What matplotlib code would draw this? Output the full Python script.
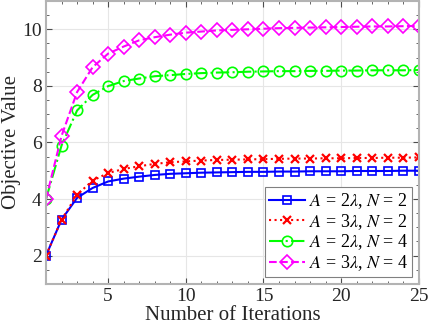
import matplotlib
matplotlib.use("Agg")
import matplotlib.pyplot as plt
from matplotlib.ticker import MultipleLocator

plt.rcParams['font.family'] = ['Liberation Serif', 'DejaVu Serif']
plt.rcParams['mathtext.fontset'] = 'stix'

iterations = list(range(1, 26))
a2_n2 = [2.0, 3.27, 4.04, 4.39, 4.62, 4.72, 4.79, 4.85, 4.89, 4.91, 4.93, 4.94, 4.95, 4.96,
         4.96, 4.97, 4.97, 4.98, 4.98, 4.98, 4.99, 4.99, 4.99, 5.0, 5.0]
a3_n2 = [2.0, 3.27, 4.15, 4.65, 4.92, 5.06, 5.16, 5.24, 5.30, 5.33, 5.36, 5.38, 5.39, 5.40,
         5.41, 5.42, 5.43, 5.43, 5.44, 5.44, 5.45, 5.45, 5.46, 5.46, 5.47]
a2_n4 = [4.0, 5.89, 7.13, 7.68, 7.99, 8.17, 8.26, 8.34, 8.38, 8.42, 8.45, 8.47, 8.48, 8.50,
         8.51, 8.52, 8.52, 8.53, 8.53, 8.54, 8.54, 8.55, 8.55, 8.55, 8.56]
a3_n4 = [4.0, 6.23, 7.78, 8.66, 9.14, 9.39, 9.61, 9.72, 9.81, 9.88, 9.92, 9.96, 9.98, 10.0,
         10.02, 10.04, 10.05, 10.06, 10.07, 10.08, 10.09, 10.1, 10.1, 10.11, 10.12]
labels = [r'$A$ = 2$\lambda$, $N$ = 2', r'$A$ = 3$\lambda$, $N$ = 2',
          r'$A$ = 2$\lambda$, $N$ = 4', r'$A$ = 3$\lambda$, $N$ = 4']

fig = plt.figure(figsize=(4.30, 3.32), dpi=100)
ax = fig.add_axes([0.107, 0.145, 0.867, 0.852])

ax.plot(iterations, a2_n2, '-', color='#0000FF', marker='s', ms=6, mfc='none', mew=1.2, lw=1.5, label=labels[0])
ax.plot(iterations, a3_n2, ':', color='#FF0000', marker='x', ms=6, mew=1.6, lw=1.5, label=labels[1])
ax.plot(iterations, a2_n4, '-.', color='#00FF00', marker='o', ms=7.5, mfc='none', mew=1.2, lw=1.5, label=labels[2])
ax.plot(iterations, a3_n4, '--', color='#FF00FF', marker='D', ms=7, mfc='none', mew=1.2, lw=1.5, label=labels[3])

ax.set_xlim(1, 25)
ax.set_ylim(1, 11)
ax.set_xticks([5, 10, 15, 20, 25])
ax.set_yticks([2, 4, 6, 8, 10])
ax.xaxis.set_minor_locator(MultipleLocator(1))
ax.yaxis.set_minor_locator(MultipleLocator(0.5))
ax.tick_params(which='both', direction='in', top=True, right=True, colors='0.3', labelcolor='0.15', labelsize=14)
ax.tick_params(which='major', length=4, pad=3)
ax.tick_params(which='minor', length=2.5)
ax.grid(True, which='major', color='0.9', lw=0.8)
ax.set_axisbelow(True)
for s in ax.spines.values():
    s.set_color('0.7')
    s.set_linewidth(1.5)

ax.set_xlabel('Number of Iterations', fontsize=15, color='0.15', labelpad=1)
ax.set_ylabel('Objective Value', fontsize=15, color='0.15', labelpad=1)

leg = ax.legend(loc='lower right', fontsize=13, handlelength=2.0, handletextpad=0.2,
                labelspacing=0.05, borderpad=0.2, borderaxespad=0.4, fancybox=False, framealpha=1)
leg.get_frame().set_edgecolor('0.5')
leg.get_frame().set_linewidth(0.8)

fig.savefig('out.png', dpi=100)
